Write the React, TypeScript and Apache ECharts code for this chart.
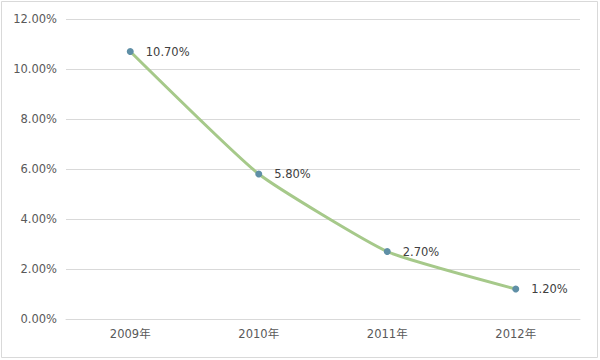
import React, { useEffect, useRef } from "react";
import * as echarts from "echarts";

const categories = ["2009年", "2010年", "2011年", "2012年"];
const values = [10.7, 5.8, 2.7, 1.2];
const yTicks = [0, 2, 4, 6, 8, 10, 12];

const FONT = "'DejaVu Sans', 'Noto Sans CJK SC', sans-serif";

export default function App() {
  const ref = useRef<HTMLDivElement>(null);
  useEffect(() => {
    if (!ref.current) return;
    const chart = echarts.init(ref.current, null, { renderer: "svg" });
    chart.setOption({
      animation: false,
      backgroundColor: "#ffffff",
      textStyle: { fontFamily: FONT },
      graphic: [
        {
          type: "rect",
          shape: { x: 1.5, y: 1.5, width: 596, height: 356 },
          style: { fill: "none", stroke: "#d9d9d9", lineWidth: 1 },
          silent: true,
        },
      ],
      grid: { left: 66, right: 20, top: 19, bottom: 41, containLabel: false },
      xAxis: {
        type: "category",
        data: categories,
        boundaryGap: true,
        axisLine: { show: true, lineStyle: { color: "#d9d9d9" } },
        axisTick: { show: false },
        axisLabel: { color: "#595959", fontSize: 11.5, margin: 9, fontFamily: FONT },
      },
      yAxis: {
        type: "value",
        min: yTicks[0],
        max: yTicks[yTicks.length - 1],
        interval: 2,
        axisLine: { show: false },
        axisTick: { show: false },
        splitLine: { lineStyle: { color: "#d9d9d9" } },
        axisLabel: {
          color: "#595959",
          fontSize: 11.5,
          margin: 9,
          fontFamily: FONT,
          formatter: (v: number) => v.toFixed(2) + "%",
        },
      },
      series: [
        {
          type: "line",
          data: values,
          smooth: 0.15,
          symbol: "circle",
          symbolSize: 7,
          lineStyle: { color: "#a6c98a", width: 3 },
          itemStyle: { color: "#5f8fa6" },
          label: {
            show: true,
            position: "right",
            distance: 12,
            color: "#404040",
            fontSize: 11.5,
            fontFamily: FONT,
            formatter: (p: any) => p.value.toFixed(2) + "%",
          },
        },
      ],
    });
    return () => chart.dispose();
  }, []);
  return (
    <div
      ref={ref}
      style={{ position: "fixed", left: 0, top: 0, width: 600, height: 360 }}
    />
  );
}
